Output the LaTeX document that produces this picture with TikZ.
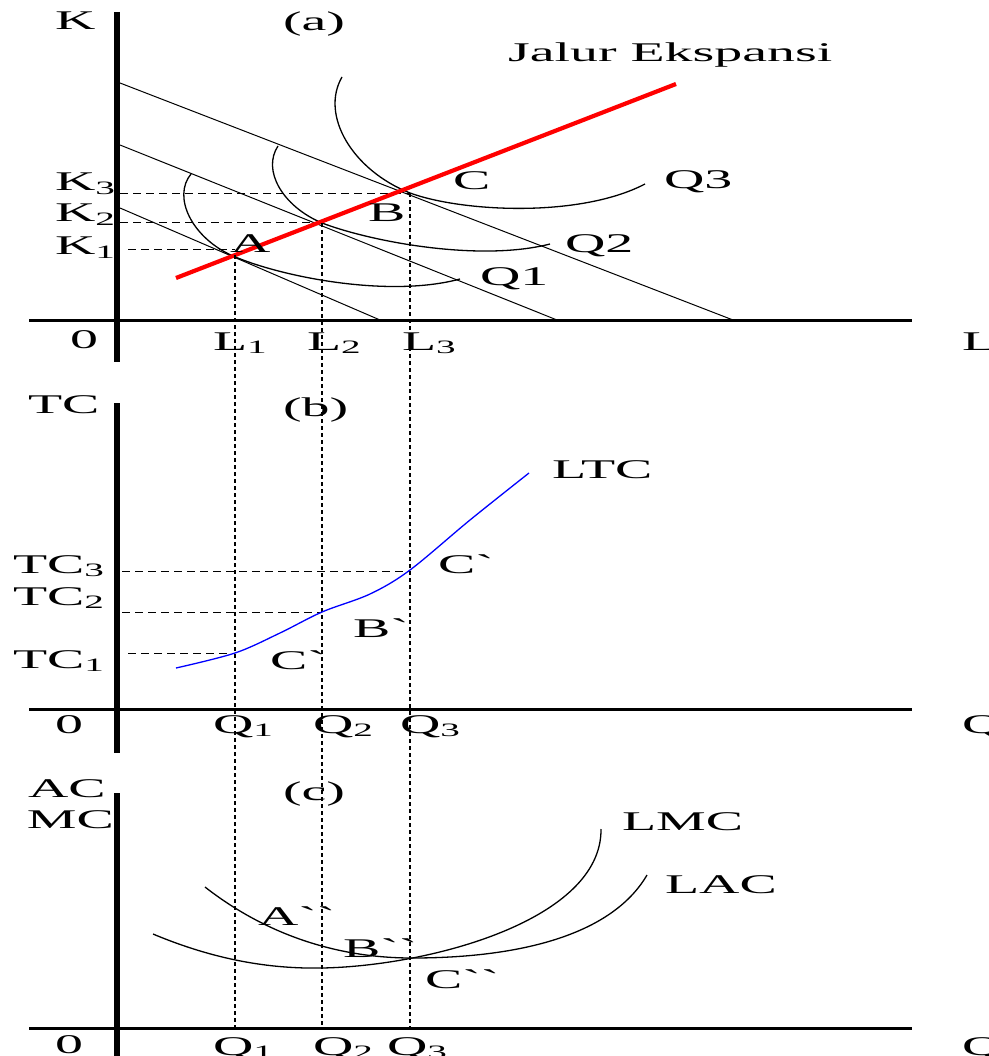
\documentclass[tikz,border=0pt]{standalone}
\usepackage{fontspec}
\setmainfont{Liberation Serif}[FakeStretch=2.07, Ligatures=TeXOff]
\newcommand{\gr}{\symbol{96}}
\begin{document}
\begin{tikzpicture}[x=1pt,y=-1pt,
  lbl/.style={anchor=base west, inner sep=0pt, outer sep=0pt, font=\fontsize{27}{30}\selectfont},
  axisv/.style={line width=6pt},
  axish/.style={line width=3pt},
  budget/.style={line width=1pt},
  curve/.style={line width=1.3pt},
  guide/.style={line width=1pt, dash pattern=on 8pt off 5pt},
  drop/.style={line width=2pt, dash pattern=on 4pt off 3pt},
  expan/.style={red, line width=4.2pt},
  ltc/.style={blue, line width=1.3pt}]
\useasboundingbox (0,0) rectangle (988,1056);

% ---------- key points ----------
\coordinate (A) at (233,256);
\coordinate (B) at (322,223);
\coordinate (C) at (410,193);
\coordinate (L1b) at (235,1028);
\coordinate (L2b) at (322,1028);
\coordinate (L3b) at (410,1028);
\coordinate (A1) at (235,255);

% ---------- panel (a) ----------
\coordinate (vaT) at (117,12);   \coordinate (vaB) at (117,362);
\coordinate (haL) at (29,320);   \coordinate (haR) at (912,320);
\draw[axisv] (vaT) -- (vaB);
\draw[axish] (haL) -- (haR);

\coordinate (b1s) at (120,208); \coordinate (b1e) at (380,320);
\coordinate (b2s) at (120,145); \coordinate (b2e) at (557,320);
\coordinate (b3s) at (120,83);  \coordinate (b3e) at (733,320);
\draw[budget] (b1s) -- (b1e);
\draw[budget] (b2s) -- (b2e);
\draw[budget] (b3s) -- (b3e);

% isoquants
\draw[curve] (191,174) .. controls (172,197) and (192,238) .. (A)
             .. controls (283,277.5) and (390,298) .. (460,279);
\draw[curve] (278,146) .. controls (262,170) and (282,206) .. (B)
             .. controls (372,242) and (480,262) .. (550,244);
\draw[curve] (342,77) .. controls (320,115) and (352,170) .. (C)
             .. controls (462,212) and (580,218) .. (645,184);

% dashed guides
\coordinate (k3s) at (120,194); \coordinate (k3e) at (410,194);
\coordinate (k2s) at (120,223); \coordinate (k2e) at (322,223);
\coordinate (k1s) at (128,250); \coordinate (k1e) at (235,250);
\draw[guide] (k3s) -- (k3e);
\draw[guide] (k2s) -- (k2e);
\draw[guide] (k1s) -- (k1e);

% expansion path
\coordinate (es) at (176,278); \coordinate (ee) at (676,84);
\draw[expan] (es) -- (ee);

% vertical drop lines through all panels
\draw[drop] (A1) -- (L1b);
\draw[drop] (B) -- (L2b);
\draw[drop] (C) -- (L3b);

\node[lbl] (tK) at (55,30) {K};
\node[lbl] (ta) at (283,31) {(a)};
\node[lbl] (tJ) at (508,62) {Jalur Ekspansi};
\node[lbl] (tK3) at (55,190.5) {K\textsubscript{3}};
\node[lbl] (tK2) at (55,221.5) {K\textsubscript{2}};
\node[lbl] (tK1) at (55,255) {K\textsubscript{1}};
\node[lbl] (tA) at (230,253) {A};
\node[lbl] (tB) at (368,221.5) {B};
\node[lbl] (tC) at (453,190) {C};
\node[lbl] (tQ1) at (480,285) {Q1};
\node[lbl] (tQ2) at (565,253) {Q2};
\node[lbl] (tQ3) at (664,189) {Q3};
\node[lbl] (t0a) at (70,348) {0};
\node[lbl] (tL1) at (213,350) {L\textsubscript{1}};
\node[lbl] (tL2) at (307,350) {L\textsubscript{2}};
\node[lbl] (tL3) at (402,350) {L\textsubscript{3}};
\node[lbl] (tL) at (962,350) {L};

% ---------- panel (b) ----------
\coordinate (vbT) at (117,403);  \coordinate (vbB) at (117,753);
\coordinate (hbL) at (29,709);   \coordinate (hbR) at (912,709);
\draw[axisv] (vbT) -- (vbB);
\draw[axish] (hbL) -- (hbR);

\coordinate (t3s) at (122,571); \coordinate (t3e) at (410,571);
\coordinate (t2s) at (122,612); \coordinate (t2e) at (322,612);
\coordinate (t1s) at (128,653); \coordinate (t1e) at (235,653);
\draw[guide] (t3s) -- (t3e);
\draw[guide] (t2s) -- (t2e);
\draw[guide] (t1s) -- (t1e);

\draw[ltc] plot[smooth, tension=0.55] coordinates
  {(176,668) (235,653) (280,633) (322,612) (370,594) (410,570) (470,520) (529,473)};

\node[lbl] (tTC) at (28,413) {TC};
\node[lbl] (tb) at (283,416) {(b)};
\node[lbl] (tTC3) at (13,573) {TC\textsubscript{3}};
\node[lbl] (tTC2) at (13,605) {TC\textsubscript{2}};
\node[lbl] (tTC1) at (13,668) {TC\textsubscript{1}};
\node[lbl] (tCp1) at (270,669) {C\gr};
\node[lbl] (tBp) at (353,637) {B\gr};
\node[lbl] (tCp2) at (438,573) {C\gr};
\node[lbl] (tLTC) at (552,478) {LTC};
\node[lbl] (t0b) at (55,733) {0};
\node[lbl] (tQb1) at (213,733) {Q\textsubscript{1}};
\node[lbl] (tQb2) at (313,733) {Q\textsubscript{2}};
\node[lbl] (tQb3) at (400,733) {Q\textsubscript{3}};
\node[lbl] (tQb) at (962,733) {Q};

% ---------- panel (c) ----------
\coordinate (vcT) at (117,793);  \coordinate (vcB) at (117,1060);
\coordinate (hcL) at (29,1028);  \coordinate (hcR) at (912,1028);
\draw[axisv] (vcT) -- (vcB);
\draw[axish] (hcL) -- (hcR);

% LMC
\draw[curve] (153,934) .. controls (215,960) and (270,969) .. (322,968)
             .. controls (430,966) and (602,920) .. (601,829);
% LAC
\draw[curve] (205,887) .. controls (260,930) and (330,958) .. (412,958)
             .. controls (520,958) and (612,935) .. (647,875);

\node[lbl] (tAC) at (28,797) {AC};
\node[lbl] (tMC) at (27,828) {MC};
\node[lbl] (tc) at (283,800) {(c)};
\node[lbl] (tApp) at (258,925) {A\gr\gr};
\node[lbl] (tBpp) at (343,957) {B\gr\gr};
\node[lbl] (tCpp) at (425,988) {C\gr\gr};
\node[lbl] (tLMC) at (622,830) {LMC};
\node[lbl] (tLAC) at (665,893) {LAC};
\node[lbl] (t0c) at (55,1053) {0};
\node[lbl] (tQc1) at (213,1055) {Q\textsubscript{1}};
\node[lbl] (tQc2) at (313,1055) {Q\textsubscript{2}};
\node[lbl] (tQc3) at (387,1055) {Q\textsubscript{3}};
\node[lbl] (tQc) at (962,1055) {Q};
\end{tikzpicture}
\end{document}
